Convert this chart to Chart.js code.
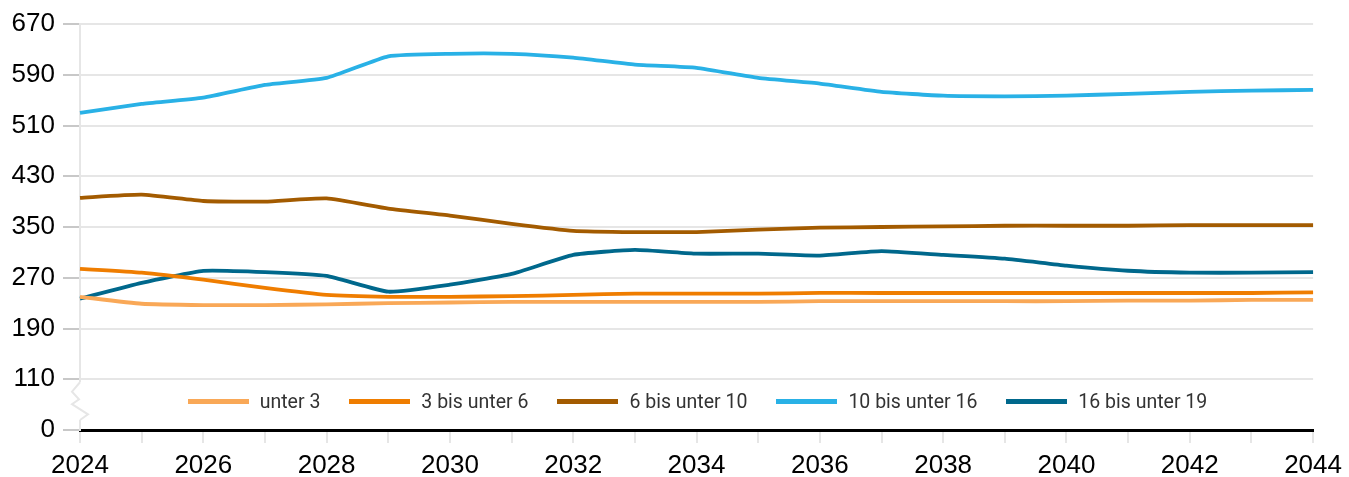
<!DOCTYPE html>
<html>
<head>
<meta charset="utf-8">
<script src="https://cdn.jsdelivr.net/npm/chart.js@4"></script>
<style>
  body { margin: 0; background: #fff; }
  #wrap { position: relative; width: 1349px; height: 477px; }
  #legend {
    position: absolute; left: 80px; width: 1235px; top: 389px; height: 24px;
    display: flex; justify-content: center; align-items: center;
    font-family: Roboto, sans-serif; font-size: 19.5px; color: #333;
  }
  #legend .item { display: flex; align-items: center; margin: 0 14.5px; }
  #legend .swatch { width: 61px; height: 5px; margin-right: 11px; }
</style>
</head>
<body>
<div id="wrap">
  <canvas id="chart"></canvas>
  <div id="legend"></div>
</div>
<script>
// Jahre 2024 bis 2044
const years = ["2024", "2025", "2026", "2027", "2028", "2029", "2030", "2031", "2032", "2033", "2034",
  "2035", "2036", "2037", "2038", "2039", "2040", "2041", "2042", "2043", "2044"];

const unter3 = [240, 229, 227, 227, 228, 230, 231, 232, 232, 232, 232,
  232, 233, 233, 233, 233, 233, 234, 234, 235, 235];
const bis6 = [284, 278, 267, 254, 243, 240, 240, 241, 243, 245, 245,
  245, 246, 246, 246, 246, 246, 246, 246, 246, 247];
const bis10 = [396, 401, 391, 390, 395, 379, 368, 355, 344, 342, 342,
  346, 349, 350, 351, 352, 352, 352, 353, 353, 353];
const bis16 = [530, 544, 554, 574, 585, 619, 623, 623, 617, 606, 601,
  585, 576, 563, 557, 556, 557, 560, 563, 565, 566];
const bis19 = [237, 262, 281, 279, 273, 248, 259, 276, 306, 314, 308,
  308, 305, 312, 306, 300, 289, 281, 278, 278, 279];

// Achsenbruch: unterster Tick (30) wird als 0 beschriftet
const yTicks = [30, 110, 190, 270, 350, 430, 510, 590, 670];

const series = [
  { label: "unter 3", data: unter3, color: "#f9a857" },
  { label: "3 bis unter 6", data: bis6, color: "#ef7d00" },
  { label: "6 bis unter 10", data: bis10, color: "#a35b00" },
  { label: "10 bis unter 16", data: bis16, color: "#29b1e6" },
  { label: "16 bis unter 19", data: bis19, color: "#00688c" },
];

// Zickzack-Markierung für den Achsenbruch
const axisBreak = {
  id: "axisBreak",
  afterDraw(chart) {
    const ctx = chart.ctx;
    const y = chart.scales.y;
    const x0 = chart.chartArea.left;
    const top = y.getPixelForValue(110) + 3;
    const bottom = y.getPixelForValue(30) - 10;
    ctx.save();
    ctx.fillStyle = "#fff";
    ctx.fillRect(x0 - 3, top, 6, bottom - top);
    ctx.strokeStyle = "#e6e6e6";
    ctx.lineWidth = 2;
    const h = bottom - top;
    ctx.beginPath();
    ctx.moveTo(x0, top);
    ctx.lineTo(x0 - 8, top + h * 0.25);
    ctx.lineTo(x0 - 1, top + h * 0.45);
    ctx.lineTo(x0 - 8, top + h * 0.58);
    ctx.lineTo(x0 + 8, top + h * 0.85);
    ctx.lineTo(x0, bottom);
    ctx.stroke();
    ctx.restore();
  },
};

const tickFont = { family: "'Liberation Sans', Arial, sans-serif", size: 26 };

new Chart(document.getElementById("chart"), {
  type: "line",
  data: {
    labels: years,
    datasets: series.map((s) => ({
      label: s.label,
      data: s.data,
      borderColor: s.color,
      backgroundColor: s.color,
      borderWidth: 3.8,
      pointRadius: 0,
      tension: 0.15,
    })),
  },
  options: {
    responsive: true,
    maintainAspectRatio: false,
    animation: false,
    layout: { padding: { top: 24, right: 34, left: 0, bottom: 0 } },
    plugins: { legend: { display: false }, tooltip: { enabled: false } },
    scales: {
      x: {
        afterFit: (scale) => { scale.height = 47; },
        grid: { drawOnChartArea: false, color: "#e6e6e6", lineWidth: 2, tickLength: 13 },
        border: { color: "#000", width: 3 },
        ticks: {
          autoSkip: false,
          maxRotation: 0,
          padding: 7,
          color: "#000",
          font: tickFont,
          callback: (v, i) => (i % 2 === 0 ? years[i] : ""),
        },
      },
      y: {
        min: 30,
        max: 670,
        afterFit: (scale) => { scale.width = 80; },
        afterBuildTicks: (scale) => { scale.ticks = yTicks.map((v) => ({ value: v })); },
        grid: { color: "#e6e6e6", lineWidth: 2, tickColor: "#c8c8c8", tickLength: 17 },
        border: { color: "#e6e6e6", width: 2 },
        ticks: {
          padding: 8,
          color: "#000",
          font: tickFont,
          callback: (v) => (v === 30 ? "0" : String(v)),
        },
      },
    },
  },
  plugins: [axisBreak],
});

// Legende als HTML innerhalb der Zeichenfläche
const legend = document.getElementById("legend");
series.forEach((s) => {
  const item = document.createElement("div");
  item.className = "item";
  const sw = document.createElement("span");
  sw.className = "swatch";
  sw.style.background = s.color;
  const txt = document.createElement("span");
  txt.textContent = s.label;
  item.appendChild(sw);
  item.appendChild(txt);
  legend.appendChild(item);
});
</script>
</body>
</html>
